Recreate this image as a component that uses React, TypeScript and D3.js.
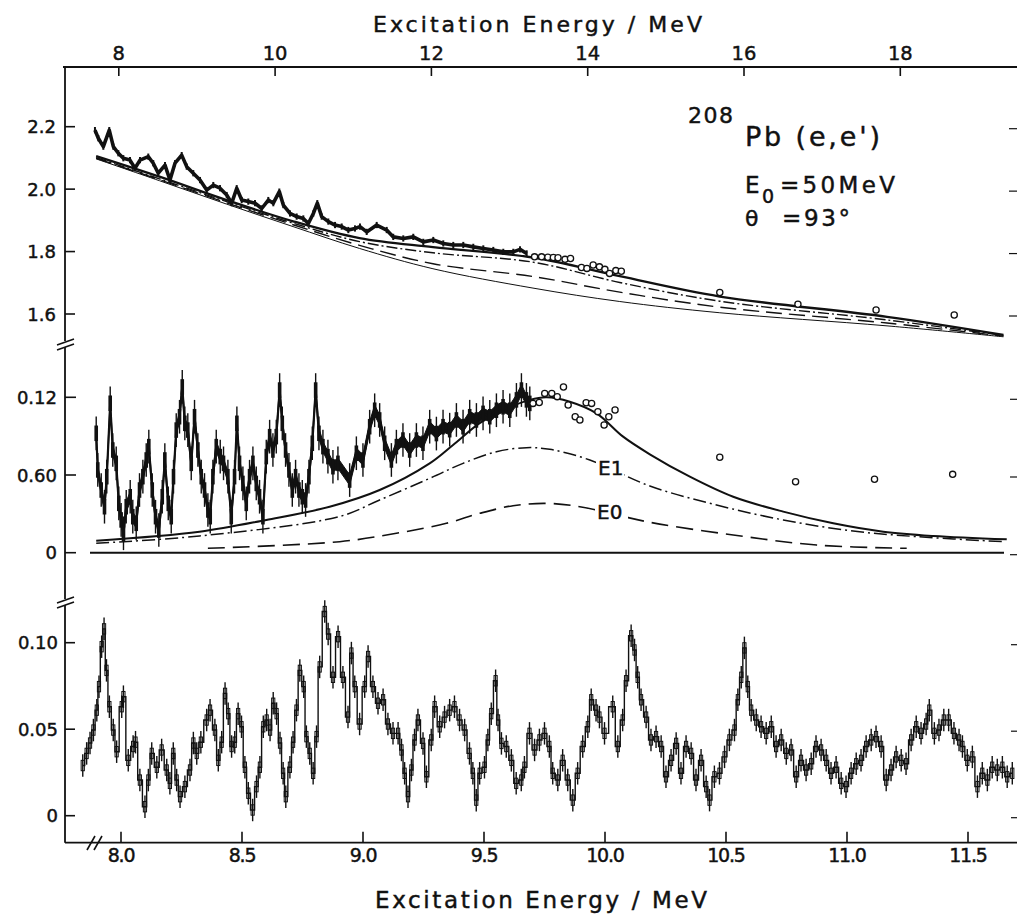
import React from 'react';
import * as d3 from 'd3';

// ---------- tick values / labels ----------
const topTicks = [8, 10, 12, 14, 16, 18];
const bottomTicks = [8.0, 8.5, 9.0, 9.5, 10.0, 10.5, 11.0, 11.5];
const upperTicks = [1.6, 1.8, 2.0, 2.2];
const upperTickLabels = ['1.6', '1.8', '2.0', '2.2'];
const midTicks = [0, 0.06, 0.12];
const midTickLabels = ['0', '0.60', '0.12'];
const lowTicks = [0, 0.05, 0.1];
const lowTickLabels = ['0', '0.05', '0.10'];

// ---------- upper panel: measured spectrum (E [MeV], value) ----------
const upperDataE = [7.695, 7.738, 7.802, 7.878, 7.93, 7.994, 8.058, 8.143, 8.207, 8.271, 8.377, 8.441, 8.505, 8.591, 8.655, 8.719, 8.805, 8.869, 8.953, 9.039, 9.125, 9.209, 9.295, 9.381, 9.445, 9.509, 9.573, 9.657, 9.743, 9.829, 9.913, 9.977, 10.054, 10.105, 10.191, 10.276, 10.361, 10.425, 10.489, 10.54, 10.596, 10.681, 10.767, 10.852, 10.937, 11.022, 11.086, 11.172, 11.3, 11.428, 11.512, 11.64, 11.768, 11.896, 12.024, 12.152, 12.28, 12.408, 12.536, 12.664, 12.792, 12.92, 13.048, 13.134, 13.219];
const upperDataV = [2.189, 2.163, 2.136, 2.189, 2.136, 2.115, 2.099, 2.093, 2.067, 2.093, 2.104, 2.083, 2.051, 2.077, 2.029, 2.083, 2.109, 2.072, 2.051, 2.029, 1.997, 2.013, 2.003, 1.981, 1.955, 2.003, 1.965, 1.96, 1.955, 1.938, 1.965, 1.955, 1.992, 1.949, 1.922, 1.912, 1.906, 1.89, 1.922, 1.955, 1.912, 1.896, 1.885, 1.88, 1.869, 1.874, 1.88, 1.863, 1.885, 1.869, 1.847, 1.842, 1.847, 1.831, 1.837, 1.826, 1.821, 1.821, 1.815, 1.81, 1.805, 1.799, 1.799, 1.807, 1.794];
const upperCircE = [13.32, 13.41, 13.49, 13.56, 13.62, 13.71, 13.78, 13.92, 13.99, 14.07, 14.15, 14.22, 14.28, 14.36, 14.43, 15.69, 16.69, 17.69, 18.69];
const upperCircV = [1.783, 1.783, 1.782, 1.781, 1.78, 1.775, 1.778, 1.749, 1.746, 1.757, 1.751, 1.743, 1.73, 1.739, 1.737, 1.669, 1.631, 1.613, 1.597];

// upper panel model curves
const curveE = [7.71, 8.52, 9.38, 10.23, 11.08, 12.02, 13.3, 14.41, 15.69, 17.83, 19.32];
const upperBg = [2.097, 2.027, 1.952, 1.88, 1.81, 1.745, 1.683, 1.64, 1.604, 1.562, 1.527];
const upperBgE0 = [2.099, 2.03, 1.956, 1.886, 1.82, 1.761, 1.72, 1.67, 1.622, 1.571, 1.529];
const upperBgE1 = [2.101, 2.033, 1.96, 1.891, 1.832, 1.796, 1.766, 1.701, 1.641, 1.581, 1.531];
const upperTotal = [2.106, 2.04, 1.965, 1.897, 1.843, 1.814, 1.781, 1.721, 1.656, 1.591, 1.533];

// ---------- middle panel: background-subtracted spectrum ----------
const midDataE = [7.711, 7.731, 7.775, 7.817, 7.846, 7.89, 7.923, 7.967, 8.0, 8.03, 8.06, 8.095, 8.146, 8.179, 8.223, 8.265, 8.308, 8.351, 8.384, 8.428, 8.47, 8.512, 8.556, 8.589, 8.633, 8.671, 8.7, 8.735, 8.777, 8.812, 8.845, 8.883, 8.927, 8.969, 9.012, 9.055, 9.097, 9.14, 9.17, 9.204, 9.247, 9.298, 9.34, 9.396, 9.439, 9.481, 9.511, 9.545, 9.588, 9.631, 9.673, 9.716, 9.759, 9.801, 9.844, 9.887, 9.93, 9.972, 10.015, 10.058, 10.092, 10.134, 10.177, 10.22, 10.262, 10.305, 10.348, 10.39, 10.433, 10.476, 10.519, 10.561, 10.612, 10.676, 10.74, 10.804, 10.954, 11.04, 11.124, 11.21, 11.274, 11.338, 11.402, 11.488, 11.552, 11.636, 11.722, 11.808, 11.892, 11.978, 12.064, 12.149, 12.234, 12.32, 12.405, 12.49, 12.576, 12.661, 12.747, 12.832, 12.917, 13.003, 13.088, 13.152, 13.216, 13.259];
const midDataV = [0.0922, 0.0639, 0.0484, 0.0355, 0.0587, 0.1154, 0.0793, 0.069, 0.0381, 0.0253, 0.015, 0.0355, 0.0432, 0.0278, 0.0227, 0.0484, 0.0587, 0.0716, 0.0819, 0.0484, 0.0278, 0.0175, 0.0432, 0.0716, 0.0381, 0.0278, 0.0587, 0.0947, 0.105, 0.128, 0.0999, 0.0947, 0.069, 0.105, 0.0793, 0.0587, 0.0484, 0.033, 0.0278, 0.0587, 0.0819, 0.0742, 0.069, 0.0587, 0.0278, 0.0587, 0.0999, 0.069, 0.0535, 0.0381, 0.0587, 0.069, 0.0535, 0.0432, 0.0278, 0.0742, 0.0896, 0.0793, 0.0896, 0.1256, 0.0999, 0.0793, 0.0639, 0.0484, 0.0587, 0.0484, 0.0432, 0.0407, 0.0587, 0.0845, 0.1256, 0.0922, 0.0819, 0.0742, 0.0664, 0.069, 0.0561, 0.0768, 0.0716, 0.0973, 0.11, 0.1025, 0.0845, 0.0716, 0.0819, 0.087, 0.0793, 0.087, 0.0845, 0.0973, 0.092, 0.0973, 0.095, 0.1025, 0.0973, 0.105, 0.1025, 0.1076, 0.105, 0.11, 0.1127, 0.11, 0.118, 0.1256, 0.118, 0.1153];
const midCircE = [13.3, 13.38, 13.45, 13.54, 13.61, 13.69, 13.75, 13.84, 13.9, 13.98, 14.05, 14.13, 14.21, 14.27, 14.35, 15.69, 16.66, 17.67, 18.67];
const midCircV = [0.1153, 0.116, 0.123, 0.123, 0.1205, 0.128, 0.114, 0.105, 0.1025, 0.1158, 0.1153, 0.1089, 0.0986, 0.105, 0.1102, 0.0737, 0.0548, 0.0567, 0.0605];

const midTotalE = [7.711, 9.033, 9.887, 10.698, 11.338, 11.978, 12.277, 12.618, 12.917, 13.259, 13.473, 13.771, 14.113, 14.453, 14.795, 15.307, 15.862, 16.502, 17.142, 17.782, 18.423, 19.362];
const midTotalV = [0.0093, 0.0162, 0.0253, 0.0355, 0.0484, 0.069, 0.0832, 0.1, 0.11, 0.118, 0.12, 0.1166, 0.1076, 0.0896, 0.076, 0.0587, 0.0432, 0.0317, 0.0227, 0.0162, 0.0129, 0.0103];
const midE1E = [7.711, 9.033, 10.826, 11.338, 11.978, 12.405, 12.832, 13.216, 13.515, 14.027, 14.795, 15.649, 16.502, 17.356, 18.21, 19.319];
const midE1V = [0.0073, 0.0129, 0.028, 0.0407, 0.0574, 0.069, 0.078, 0.0811, 0.0798, 0.0716, 0.0515, 0.0368, 0.0253, 0.017, 0.0124, 0.0085];
const midE0E = [9.14, 10.826, 11.552, 12.192, 12.618, 13.045, 13.473, 13.899, 14.795, 15.862, 16.929, 18.082];
const midE0V = [0.0034, 0.0085, 0.015, 0.0227, 0.0304, 0.0363, 0.0381, 0.0355, 0.0235, 0.0137, 0.0059, 0.0034];

// ---------- bottom panel: fine structure ----------
const fineE = [7.842, 7.858, 7.872, 7.886, 7.9, 7.909, 7.92, 7.93, 7.94, 7.952, 7.968, 7.982, 8.003, 8.01, 8.03, 8.05, 8.06, 8.078, 8.099, 8.113, 8.127, 8.148, 8.168, 8.189, 8.202, 8.216, 8.23, 8.244, 8.264, 8.285, 8.299, 8.313, 8.33, 8.354, 8.368, 8.388, 8.402, 8.416, 8.43, 8.443, 8.457, 8.47, 8.484, 8.498, 8.512, 8.526, 8.544, 8.56, 8.574, 8.588, 8.602, 8.616, 8.629, 8.643, 8.657, 8.67, 8.681, 8.698, 8.711, 8.725, 8.739, 8.755, 8.766, 8.78, 8.794, 8.808, 8.821, 8.842, 8.856, 8.876, 8.897, 8.917, 8.938, 8.952, 8.966, 8.986, 9.007, 9.021, 9.041, 9.062, 9.083, 9.103, 9.124, 9.145, 9.159, 9.172, 9.186, 9.2, 9.213, 9.227, 9.248, 9.262, 9.282, 9.296, 9.317, 9.337, 9.358, 9.378, 9.399, 9.42, 9.44, 9.454, 9.468, 9.482, 9.502, 9.516, 9.53, 9.548, 9.558, 9.572, 9.592, 9.613, 9.633, 9.654, 9.667, 9.688, 9.709, 9.729, 9.75, 9.77, 9.784, 9.805, 9.825, 9.846, 9.867, 9.887, 9.908, 9.929, 9.943, 9.963, 9.977, 9.998, 10.032, 10.053, 10.073, 10.087, 10.108, 10.122, 10.135, 10.149, 10.17, 10.19, 10.211, 10.232, 10.252, 10.273, 10.294, 10.314, 10.335, 10.356, 10.376, 10.397, 10.418, 10.432, 10.452, 10.473, 10.494, 10.514, 10.535, 10.549, 10.563, 10.576, 10.59, 10.604, 10.625, 10.645, 10.666, 10.687, 10.707, 10.728, 10.749, 10.769, 10.79, 10.81, 10.831, 10.852, 10.872, 10.893, 10.914, 10.934, 10.955, 10.976, 10.996, 11.017, 11.038, 11.058, 11.079, 11.1, 11.12, 11.141, 11.162, 11.182, 11.203, 11.224, 11.244, 11.265, 11.286, 11.306, 11.327, 11.34, 11.361, 11.38, 11.4, 11.42, 11.442, 11.463, 11.477, 11.497, 11.518, 11.539, 11.559, 11.58, 11.6, 11.621, 11.642, 11.662, 11.683];
const fineV = [0.029, 0.036, 0.042, 0.0495, 0.061, 0.0746, 0.0977, 0.108, 0.084, 0.063, 0.0495, 0.037, 0.063, 0.0688, 0.032, 0.04, 0.0425, 0.0206, 0.0052, 0.0206, 0.036, 0.028, 0.038, 0.0264, 0.0187, 0.036, 0.0206, 0.011, 0.0168, 0.0264, 0.042, 0.036, 0.0425, 0.0553, 0.061, 0.0495, 0.032, 0.0425, 0.0707, 0.059, 0.04, 0.0425, 0.059, 0.0514, 0.028, 0.013, 0.0033, 0.0168, 0.028, 0.0514, 0.0553, 0.0495, 0.065, 0.059, 0.042, 0.0245, 0.011, 0.028, 0.0425, 0.061, 0.084, 0.0746, 0.0457, 0.036, 0.0245, 0.0457, 0.086, 0.118, 0.105, 0.08, 0.1035, 0.08, 0.057, 0.094, 0.0746, 0.053, 0.0746, 0.092, 0.0746, 0.065, 0.067, 0.053, 0.0476, 0.0476, 0.038, 0.0245, 0.011, 0.0264, 0.0438, 0.0553, 0.0418, 0.0225, 0.0438, 0.063, 0.0514, 0.057, 0.061, 0.063, 0.0553, 0.0495, 0.036, 0.0245, 0.009, 0.0245, 0.028, 0.0438, 0.059, 0.078, 0.0553, 0.0418, 0.04, 0.032, 0.0187, 0.0206, 0.028, 0.0476, 0.038, 0.0438, 0.0476, 0.04, 0.0245, 0.0206, 0.032, 0.0206, 0.009, 0.0245, 0.04, 0.0514, 0.067, 0.061, 0.057, 0.0476, 0.063, 0.04, 0.0553, 0.078, 0.104, 0.0958, 0.08, 0.067, 0.057, 0.0438, 0.0457, 0.04, 0.0225, 0.032, 0.0418, 0.0245, 0.04, 0.036, 0.0206, 0.032, 0.0168, 0.009, 0.0225, 0.0245, 0.034, 0.0438, 0.0495, 0.067, 0.08, 0.097, 0.0746, 0.061, 0.0553, 0.0514, 0.0476, 0.0514, 0.04, 0.0438, 0.036, 0.038, 0.0225, 0.032, 0.0264, 0.03, 0.04, 0.038, 0.032, 0.0245, 0.028, 0.0187, 0.0168, 0.0245, 0.03, 0.032, 0.04, 0.0438, 0.0457, 0.04, 0.0206, 0.0264, 0.034, 0.032, 0.03, 0.0438, 0.0514, 0.0476, 0.053, 0.061, 0.0476, 0.0495, 0.0553, 0.0553, 0.0476, 0.0438, 0.04, 0.032, 0.034, 0.0168, 0.0245, 0.0206, 0.028, 0.0264, 0.028, 0.0225, 0.0245];

const W = 1017;
const H = 914;
const FONT = 'DejaVu Sans, Verdana, sans-serif';
const INK = '#111';

export default function App() {
  const xTop = d3.scaleLinear().domain([8, 18]).range([118.8, 900.3]);
  const xBot = d3.scaleLinear().domain([8, 11.5]).range([121, 968]);
  const yUp = d3.scaleLinear().domain([1.6, 2.2]).range([314, 126.7]);
  const yMid = d3.scaleLinear().domain([0, 0.12]).range([552.7, 397.3]);
  const yLow = d3.scaleLinear().domain([0, 0.1]).range([815.7, 642.7]);

  const axisX = 65;
  const topY = 67;
  const botY = 842.7;

  const smooth = (xs: any, ys: any) =>
    d3.line<[number, number]>().x(d => xs(d[0])).y(d => ys(d[1])).curve(d3.curveCatmullRom.alpha(0.5));
  const zip = (a: number[], b: number[]) => a.map((v, i) => [v, b[i]] as [number, number]);

  const upperPts = zip(upperDataE, upperDataV);
  const midPts = zip(midDataE, midDataV);
  const finePts = zip(fineE, fineV);

  const lineUpData = d3.line<[number, number]>().x(d => xTop(d[0])).y(d => yUp(d[1]));
  const lineMidData = d3.line<[number, number]>().x(d => xTop(d[0])).y(d => yMid(d[1]));
  const midBand = d3.area<[number, number]>().x(d => xTop(d[0])).y0(d => yMid(d[1] - 0.004)).y1(d => yMid(d[1] + 0.004));
  const fineLine = d3.line<[number, number]>().x(d => xBot(d[0])).y(d => yLow(d[1])).curve(d3.curveStep);

  const upErr = 0.01;
  const midErr = 0.013;
  const midBox = 0.006;
  const fineErr = 0.0065;
  const fineBox = 0.003;

  const txt = (props: any, s: string) => (
    <text fontFamily={FONT} fill={INK} stroke={INK} strokeWidth={0.45} {...props}>{s}</text>
  );

  return (
    <svg width={W} height={H} viewBox={`0 0 ${W} ${H}`} style={{ position: 'absolute', left: 0, top: 0, background: '#fff' }}>
      <rect x={0} y={0} width={W} height={H} fill="#fff" />

      {/* titles */}
      {txt({ x: 373, y: 31.5, fontSize: 22, textLength: 329, lengthAdjust: 'spacing' }, 'Excitation Energy / MeV')}
      {txt({ x: 375, y: 908, fontSize: 23, textLength: 332, lengthAdjust: 'spacing' }, 'Excitation Energy / MeV')}

      {/* top axis */}
      <line x1={63} x2={W} y1={topY} y2={topY} stroke={INK} strokeWidth={1.8} />
      {topTicks.map(t => (
        <g key={'tt' + t}>
          <line x1={xTop(t)} x2={xTop(t)} y1={topY} y2={topY + 9} stroke={INK} strokeWidth={1.6} />
          {txt({ x: xTop(t), y: 59.5, fontSize: 19.5, textAnchor: 'middle' }, String(t))}
        </g>
      ))}

      {/* bottom axis */}
      <line x1={axisX} x2={W} y1={botY} y2={botY} stroke={INK} strokeWidth={1.8} />
      {bottomTicks.map(t => (
        <g key={'bt' + t}>
          <line x1={xBot(t)} x2={xBot(t)} y1={botY} y2={botY - 11} stroke={INK} strokeWidth={1.6} />
          {txt({ x: xBot(t), y: 862, fontSize: 19, textAnchor: 'middle', letterSpacing: -1.2 }, t.toFixed(1))}
        </g>
      ))}
      <line x1={87} y1={850} x2={95} y2={836} stroke={INK} strokeWidth={1.6} />
      <line x1={94} y1={850} x2={102} y2={836} stroke={INK} strokeWidth={1.6} />

      {/* left axis with breaks */}
      <line x1={axisX} x2={axisX} y1={topY - 1} y2={botY} stroke={INK} strokeWidth={1.8} />
      {[344, 602].map(b => (
        <g key={'br' + b}>
          <rect x={axisX - 3} y={b - 3} width={6} height={6} fill="#fff" />
          <line x1={57} y1={b + 1} x2={74} y2={b - 5} stroke={INK} strokeWidth={1.6} />
          <line x1={57} y1={b + 6} x2={74} y2={b} stroke={INK} strokeWidth={1.6} />
        </g>
      ))}

      {/* left ticks and labels */}
      {upperTicks.map((t, i) => (
        <g key={'ut' + t}>
          <line x1={axisX} x2={axisX + 10} y1={yUp(t)} y2={yUp(t)} stroke={INK} strokeWidth={1.6} />
          <line x1={W - 8} x2={W} y1={yUp(t) + 2} y2={yUp(t) + 2} stroke={INK} strokeWidth={1.2} />
          {txt({ x: 56, y: yUp(t) + 6.5, fontSize: 18, textAnchor: 'end' }, upperTickLabels[i])}
        </g>
      ))}
      {midTicks.map((t, i) => (
        <g key={'mt' + t}>
          <line x1={axisX} x2={axisX + 11} y1={yMid(t)} y2={yMid(t)} stroke={INK} strokeWidth={1.6} />
          <line x1={W - 7} x2={W} y1={yMid(t) + 2} y2={yMid(t) + 2} stroke={INK} strokeWidth={1.2} />
          {txt({ x: 57, y: yMid(t) + 6.5, fontSize: 18, textAnchor: 'end' }, midTickLabels[i])}
        </g>
      ))}
      {lowTicks.map((t, i) => (
        <g key={'lt' + t}>
          <line x1={axisX} x2={axisX + 10} y1={yLow(t)} y2={yLow(t)} stroke={INK} strokeWidth={1.6} />
          <line x1={W - 6} x2={W} y1={yLow(t) + 2} y2={yLow(t) + 2} stroke={INK} strokeWidth={1.2} />
          {txt({ x: 58, y: yLow(t) + 6.5, fontSize: 18, textAnchor: 'end' }, lowTickLabels[i])}
        </g>
      ))}

      {/* ===== upper panel ===== */}
      <path d={smooth(xTop, yUp)(zip(curveE, upperBg)) || ''} fill="none" stroke={INK} strokeWidth={1} />
      <path d={smooth(xTop, yUp)(zip(curveE, upperBgE0)) || ''} fill="none" stroke={INK} strokeWidth={1.4} strokeDasharray="16,7" />
      <path d={smooth(xTop, yUp)(zip(curveE, upperBgE1)) || ''} fill="none" stroke={INK} strokeWidth={1.4} strokeDasharray="11,3,2,3" />
      <path d={smooth(xTop, yUp)(zip(curveE, upperTotal)) || ''} fill="none" stroke={INK} strokeWidth={2.3} />
      <path d={lineUpData(upperPts) || ''} fill="none" stroke={INK} strokeWidth={3.6} strokeLinejoin="round" />
      {upperPts.map((d, i) => (
        <line key={'ue' + i} x1={xTop(d[0])} x2={xTop(d[0])} y1={yUp(d[1] - upErr)} y2={yUp(d[1] + upErr)} stroke={INK} strokeWidth={2} />
      ))}
      {upperCircE.map((e, i) => (
        <circle key={'uc' + i} cx={xTop(e)} cy={yUp(upperCircV[i])} r={3.1} fill="#fff" stroke={INK} strokeWidth={1.3} />
      ))}

      {/* legend text */}
      {txt({ x: 688, y: 123, fontSize: 22, letterSpacing: 1.5 }, '208')}
      {txt({ x: 745, y: 146, fontSize: 27, textLength: 135, lengthAdjust: 'spacing' }, "Pb (e,e')")}
      {txt({ x: 745, y: 193, fontSize: 23 }, 'E')}
      {txt({ x: 762, y: 203, fontSize: 19 }, '0')}
      {txt({ x: 780, y: 193, fontSize: 23, textLength: 115, lengthAdjust: 'spacing' }, '=50MeV')}
      {txt({ x: 745, y: 226, fontSize: 22 }, 'θ')}
      {txt({ x: 782, y: 226, fontSize: 23, textLength: 68, lengthAdjust: 'spacing' }, '=93°')}

      {/* ===== middle panel ===== */}
      <line x1={90} x2={1004} y1={yMid(0)} y2={yMid(0)} stroke={INK} strokeWidth={2} />
      <path d={smooth(xTop, yMid)(zip(midE0E, midE0V)) || ''} fill="none" stroke={INK} strokeWidth={1.6} strokeDasharray="17,8" />
      <path d={smooth(xTop, yMid)(zip(midE1E, midE1V)) || ''} fill="none" stroke={INK} strokeWidth={1.5} strokeDasharray="13,4,2,4" />
      <path d={smooth(xTop, yMid)(zip(midTotalE, midTotalV)) || ''} fill="none" stroke={INK} strokeWidth={2} />
      <path d={midBand(midPts) || ''} fill={INK} stroke={INK} strokeWidth={1} />
      <path d={lineMidData(midPts) || ''} fill="none" stroke={INK} strokeWidth={2.2} strokeLinejoin="round" />
      {midPts.map((d, i) => (
        <g key={'me' + i}>
          <line x1={xTop(d[0])} x2={xTop(d[0])} y1={yMid(d[1] - midErr)} y2={yMid(d[1] + midErr)} stroke={INK} strokeWidth={1.4} />
          <rect x={xTop(d[0]) - 1.8} y={yMid(d[1] + midBox)} width={3.6} height={yMid(d[1] - midBox) - yMid(d[1] + midBox)} fill={INK} />
        </g>
      ))}
      {midCircE.map((e, i) => (
        <circle key={'mc' + i} cx={xTop(e)} cy={yMid(midCircV[i])} r={3.1} fill="#fff" stroke={INK} strokeWidth={1.3} />
      ))}
      <rect x={596} y={458} width={28} height={19} fill="#fff" />
      {txt({ x: 598, y: 475, fontSize: 20 }, 'E1')}
      <rect x={595} y={501} width={33} height={20} fill="#fff" />
      {txt({ x: 597, y: 519, fontSize: 20 }, 'E0')}

      {/* ===== bottom panel ===== */}
      <path d={fineLine(finePts) || ''} fill="none" stroke={INK} strokeWidth={1.4} />
      {finePts.map((d, i) => (
        <g key={'fe' + i}>
          <line x1={xBot(d[0])} x2={xBot(d[0])} y1={yLow(d[1] - fineErr)} y2={yLow(d[1] + fineErr)} stroke={INK} strokeWidth={1.4} />
          <rect x={xBot(d[0]) - 1.6} y={yLow(d[1] + fineBox)} width={3.2} height={yLow(d[1] - fineBox) - yLow(d[1] + fineBox)} fill="none" stroke={INK} strokeWidth={1} />
        </g>
      ))}
    </svg>
  );
}
